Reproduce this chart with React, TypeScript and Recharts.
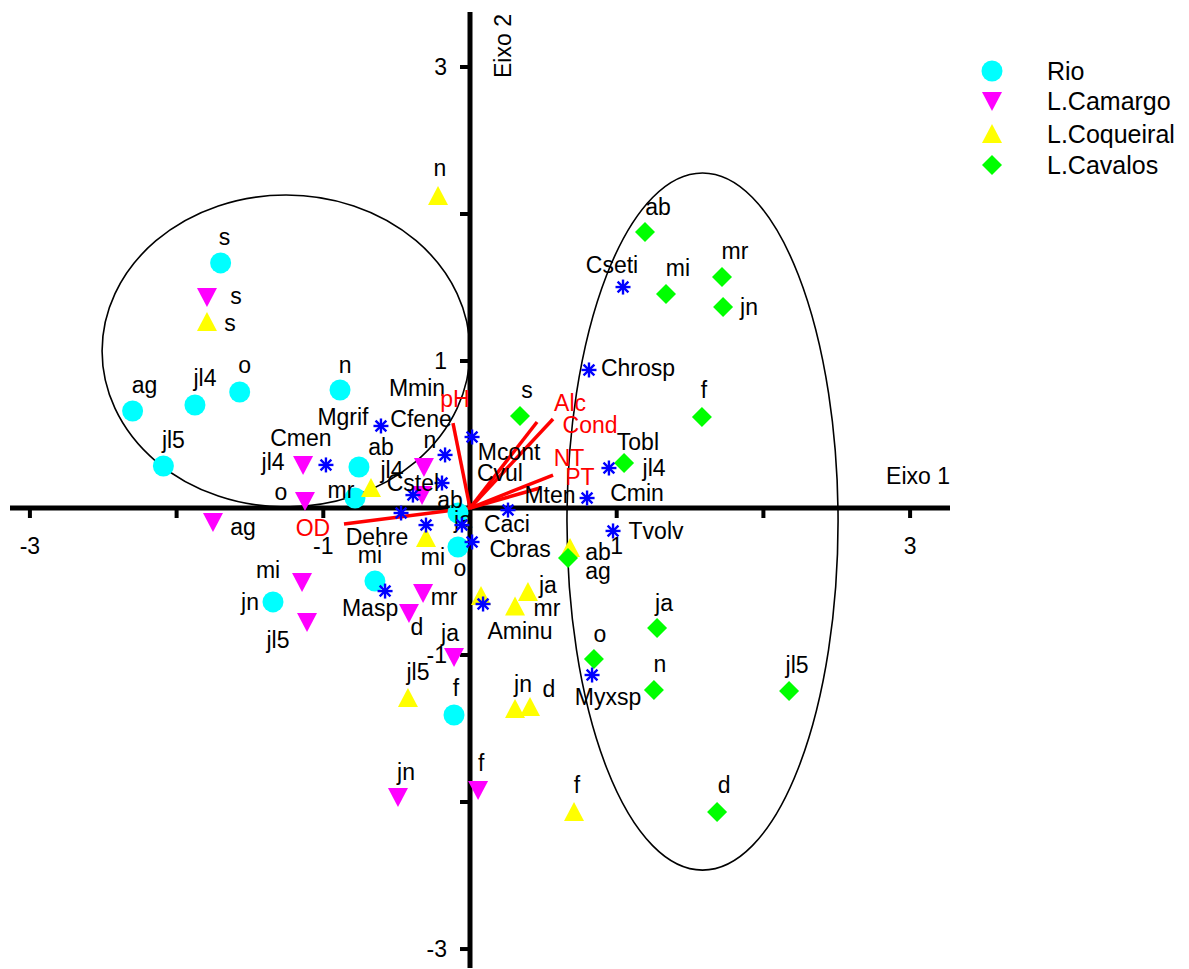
import React from 'react';
import { ScatterChart, Scatter, XAxis, YAxis, ReferenceLine, ReferenceDot } from 'recharts';

const W = 1189;
const H = 969;
const margin = { top: 12, right: 239, bottom: 1, left: 10 };
const xDomain: [number, number] = [-3.1357, 3.272];
const yDomain: [number, number] = [-3.129, 3.374];
const pxX = (W - margin.left - margin.right) / (xDomain[1] - xDomain[0]);
const pxY = (H - margin.top - margin.bottom) / (yDomain[1] - yDomain[0]);
const FONT = '"Liberation Sans", Arial, sans-serif';

// sites
const rioLabels = ['s', 'ag', 'jl4', 'o', 'jl5', 'n', 'ab', 'mr', 'mi', 'jn', 'f', 'ja', 'd'];
const rioX = [-1.7, -2.3, -1.875, -1.57, -2.09, -0.886, -0.757, -0.784, -0.648, -1.343, -0.109, -0.082, -0.082];
const rioY = [1.667, 0.66, 0.701, 0.789, 0.286, 0.803, 0.279, 0.068, -0.497, -0.639, -1.408, -0.034, -0.265];
const rioLabelPos = [[4, -26], [12, -26], [10, -27], [5, -27], [10, -26], [5, -25], [22, -20], [-14, -8], [-5, -26], [-23, 0], [2, -27], [5, 7], null];

const camLabels = ['s', 'jl4', 'o', 'ag', 'mi', 'jl5', 'mr', 'd', 'ja', 'jn', 'f', 'n', 'ab'];
const camX = [-1.793, -1.138, -1.125, -1.752, -1.145, -1.111, -0.32, -0.416, -0.109, -0.491, 0.055, -0.314, -0.327];
const camY = [1.435, 0.293, 0.048, -0.095, -0.503, -0.776, -0.578, -0.714, -1.014, -1.966, -1.918, 0.279, 0.088];
const camLabelPos = [[29, -1], [-30, -3], [-24, -9], [30, 5], [-34, -12], [-29, 18], [21, 4], [8, 14], [-4, -24], [8, -25], [3, -27], [6, -27], [28, 5]];

const coqLabels = ['s', 'n', 'jl4', 'mi', 'ab', 'ja', 'mr', 'jl5', 'jn', 'd', 'f', 'o'];
const coqX = [-1.793, -0.218, -0.675, -0.3, 0.682, 0.395, 0.307, -0.423, 0.307, 0.409, 0.709, 0.075];
const coqY = [1.265, 2.122, 0.136, -0.204, -0.272, -0.572, -0.67, -1.293, -1.367, -1.354, -2.068, -0.599];
const coqLabelPos = [[23, 1], [2, -28], [21, -18], [7, 19], [28, 4], [20, -7], [32, 1], [10, -26], [8, -25], [19, -18], [3, -27], [-21, -28]];

const cavLabels = ['ab', 'mi', 'mr', 'jn', 's', 'f', 'jl4', 'ag', 'ja', 'o', 'n', 'jl5', 'd'];
const cavX = [1.193, 1.336, 1.718, 1.725, 0.341, 1.581, 1.05, 0.668, 1.275, 0.845, 1.254, 2.175, 1.684];
const cavY = [1.877, 1.456, 1.571, 1.367, 0.626, 0.619, 0.306, -0.34, -0.816, -1.027, -1.238, -1.245, -2.068];
const cavLabelPos = [[13, -25], [12, -26], [13, -26], [26, 0], [7, -26], [2, -27], [30, 5], [30, 13], [7, -25], [6, -25], [6, -26], [8, -26], [7, -27]];

// species
const spLabels = ['Cseti', 'Chrosp', 'Tobl', 'Cmin', 'Tvolv', 'Myxsp', 'Aminu', 'Cbras', 'Caci', 'Mten', 'Mcont', 'Cvul', 'Cstel', 'Mgrif', 'Mmin', 'Cmen', 'Cfene', 'Dehre', 'Masp'];
const spX = [1.043, 0.811, 0.947, 0.798, 0.975, 0.832, 0.089, 0.014, -0.055, 0.259, -0.17, -0.191, -0.389, -0.607, 0.014, -0.982, -0.47, -0.3, -0.579];
const spY = [1.503, 0.939, 0.272, 0.068, -0.156, -1.136, -0.653, -0.231, -0.116, -0.014, 0.361, 0.17, 0.088, 0.558, 0.483, 0.293, -0.034, -0.116, -0.565];
const spLabelPos = [[-11, -22], [49, -2], [29, -26], [50, -5], [43, 0], [16, 22], [37, 27], [48, 7], [45, -1], [42, -15], [64, -3], [58, -10], [0, -12], [-38, -9], [-55, -49], [-25, -27], [20, -94], [-49, 12], [-15, 17]];

// environmental vectors
const envLabels = ['pH', 'Alc', 'Cond', 'NT', 'PT', 'OD'];
const envX = [-0.116, 0.457, 0.566, 0.566, 0.477, -0.859];
const envY = [0.578, 0.585, 0.605, 0.224, 0.136, -0.109];
const envLabelPos = [[2, -24], [33, -19], [37, 6], [16, -17], [40, -11], [-31, 4]];

// ellipses
const ellCX = [-1.254, 1.585];
const ellCY = [1.068, -0.092];
const ellRX = [1.254, 0.924];
const ellRY = [1.061, 2.371];

const axisTicks = [-3, -2, -1, 1, 2, 3];
const axisTickLabels = [-3, -1, 1, 3];

const groups = [
  { name: 'Rio', color: '#00FFFF', kind: 'circle', labels: rioLabels, xs: rioX, ys: rioY, pos: rioLabelPos },
  { name: 'L.Camargo', color: '#FF00FF', kind: 'down', labels: camLabels, xs: camX, ys: camY, pos: camLabelPos },
  { name: 'L.Coqueiral', color: '#FFFF00', kind: 'up', labels: coqLabels, xs: coqX, ys: coqY, pos: coqLabelPos },
  { name: 'L.Cavalos', color: '#00FF00', kind: 'diamond', labels: cavLabels, xs: cavX, ys: cavY, pos: cavLabelPos },
];

function toRows(labels: string[], xs: number[], ys: number[], pos: any[]) {
  return labels.map((label, i) => ({ x: xs[i], y: ys[i], label, pos: pos[i] }));
}

function Marker({ kind, color, cx, cy }: { kind: string; color: string; cx: number; cy: number }) {
  if (kind === 'circle') return <circle cx={cx} cy={cy} r={10.5} fill={color} />;
  if (kind === 'down')
    return <polygon points={`${cx - 10},${cy - 9} ${cx + 10},${cy - 9} ${cx},${cy + 10}`} fill={color} />;
  if (kind === 'up')
    return <polygon points={`${cx - 10},${cy + 9} ${cx + 10},${cy + 9} ${cx},${cy - 10}`} fill={color} />;
  if (kind === 'diamond')
    return <polygon points={`${cx},${cy - 10} ${cx + 10},${cy} ${cx},${cy + 10} ${cx - 10},${cy}`} fill={color} />;
  // asterisk
  const r = 7.5;
  const d = r * 0.72;
  return (
    <g stroke={color} strokeWidth={2.4}>
      <line x1={cx} y1={cy - r} x2={cx} y2={cy + r} />
      <line x1={cx - r} y1={cy} x2={cx + r} y2={cy} />
      <line x1={cx - d} y1={cy - d} x2={cx + d} y2={cy + d} />
      <line x1={cx - d} y1={cy + d} x2={cx + d} y2={cy - d} />
    </g>
  );
}

function Label({ x, y, text, color = '#000' }: { x: number; y: number; text: string; color?: string }) {
  return (
    <text x={x} y={y} textAnchor="middle" dominantBaseline="central" fontSize={23} fontFamily={FONT} fill={color}>
      {text}
    </text>
  );
}

function pointShape(kind: string, color: string) {
  return (p: any) => {
    const { cx, cy, payload } = p;
    return (
      <g>
        <Marker kind={kind} color={color} cx={cx} cy={cy} />
        {payload.pos && <Label x={cx + payload.pos[0]} y={cy + payload.pos[1]} text={payload.label} />}
      </g>
    );
  };
}

function LegendBox() {
  const rowsY = [21, 51, 84, 115];
  return (
    <svg width={229} height={150} style={{ position: 'absolute', left: 960, top: 50 }}>
      {groups.map((g, i) => (
        <g key={g.name}>
          <Marker kind={g.kind} color={g.color} cx={32} cy={rowsY[i]} />
          <text x={87} y={rowsY[i]} dominantBaseline="central" fontSize={25} fontFamily={FONT} fill="#000">
            {g.name}
          </text>
        </g>
      ))}
    </svg>
  );
}

export default function App() {
  const species = toRows(spLabels, spX, spY, spLabelPos);
  return (
    <div style={{ position: 'absolute', left: 0, top: 0, width: W, height: H, background: '#fff' }}>
      <ScatterChart width={W} height={H} margin={margin}>
        <XAxis type="number" dataKey="x" domain={xDomain} allowDataOverflow hide />
        <YAxis type="number" dataKey="y" domain={yDomain} allowDataOverflow hide />

        {ellCX.map((cx, i) => (
          <ReferenceDot
            key={`ell-${i}`}
            x={cx}
            y={ellCY[i]}
            r={0}
            ifOverflow="visible"
            shape={(p: any) => (
              <ellipse cx={p.cx} cy={p.cy} rx={ellRX[i] * pxX} ry={ellRY[i] * pxY} fill="none" stroke="#000" strokeWidth={1.6} />
            )}
          />
        ))}

        <ReferenceLine y={0} stroke="#000" strokeWidth={5} ifOverflow="visible" />
        <ReferenceLine x={0} stroke="#000" strokeWidth={5} ifOverflow="visible" />

        {axisTicks.map((t) => (
          <ReferenceDot
            key={`xt-${t}`}
            x={t}
            y={0}
            r={0}
            shape={(p: any) => (
              <g>
                <line x1={p.cx} x2={p.cx} y1={p.cy} y2={p.cy + 10} stroke="#000" strokeWidth={4} />
                {axisTickLabels.includes(t) && <Label x={p.cx} y={p.cy + 38} text={String(t)} />}
              </g>
            )}
          />
        ))}
        {axisTicks.map((t) => (
          <ReferenceDot
            key={`yt-${t}`}
            x={0}
            y={t}
            r={0}
            shape={(p: any) => (
              <g>
                <line x1={p.cx - 10} x2={p.cx} y1={p.cy} y2={p.cy} stroke="#000" strokeWidth={4} />
                {axisTickLabels.includes(t) && (
                  <text x={p.cx - 23} y={p.cy} textAnchor="end" dominantBaseline="central" fontSize={23} fontFamily={FONT}>
                    {t}
                  </text>
                )}
              </g>
            )}
          />
        ))}

        <ReferenceDot
          x={xDomain[1]}
          y={0}
          r={0}
          ifOverflow="visible"
          shape={(p: any) => (
            <text x={p.cx} y={p.cy - 32} textAnchor="end" dominantBaseline="central" fontSize={23} fontFamily={FONT}>
              Eixo 1
            </text>
          )}
        />
        <ReferenceDot
          x={0}
          y={yDomain[1]}
          r={0}
          ifOverflow="visible"
          shape={(p: any) => (
            <text
              x={p.cx + 33}
              y={p.cy + 34}
              textAnchor="middle"
              dominantBaseline="central"
              fontSize={23}
              fontFamily={FONT}
              transform={`rotate(-90 ${p.cx + 33} ${p.cy + 34})`}
            >
              Eixo 2
            </text>
          )}
        />

        {groups.map((g) => (
          <Scatter
            key={g.name}
            name={g.name}
            data={toRows(g.labels, g.xs, g.ys, g.pos)}
            isAnimationActive={false}
            shape={pointShape(g.kind, g.color)}
          />
        ))}
        <Scatter name="Espécies" data={species} isAnimationActive={false} shape={pointShape('star', '#0000FF')} />

        {envLabels.map((name, i) => (
          <ReferenceLine
            key={`env-${name}`}
            segment={[{ x: 0, y: 0 }, { x: envX[i], y: envY[i] }]}
            stroke="#FF0000"
            strokeWidth={3.5}
            ifOverflow="visible"
          />
        ))}
        {envLabels.map((name, i) => (
          <ReferenceDot
            key={`envl-${name}`}
            x={envX[i]}
            y={envY[i]}
            r={0}
            shape={(p: any) => <Label x={p.cx + envLabelPos[i][0]} y={p.cy + envLabelPos[i][1]} text={name} color="#FF0000" />}
          />
        ))}
      </ScatterChart>
      <LegendBox />
    </div>
  );
}
